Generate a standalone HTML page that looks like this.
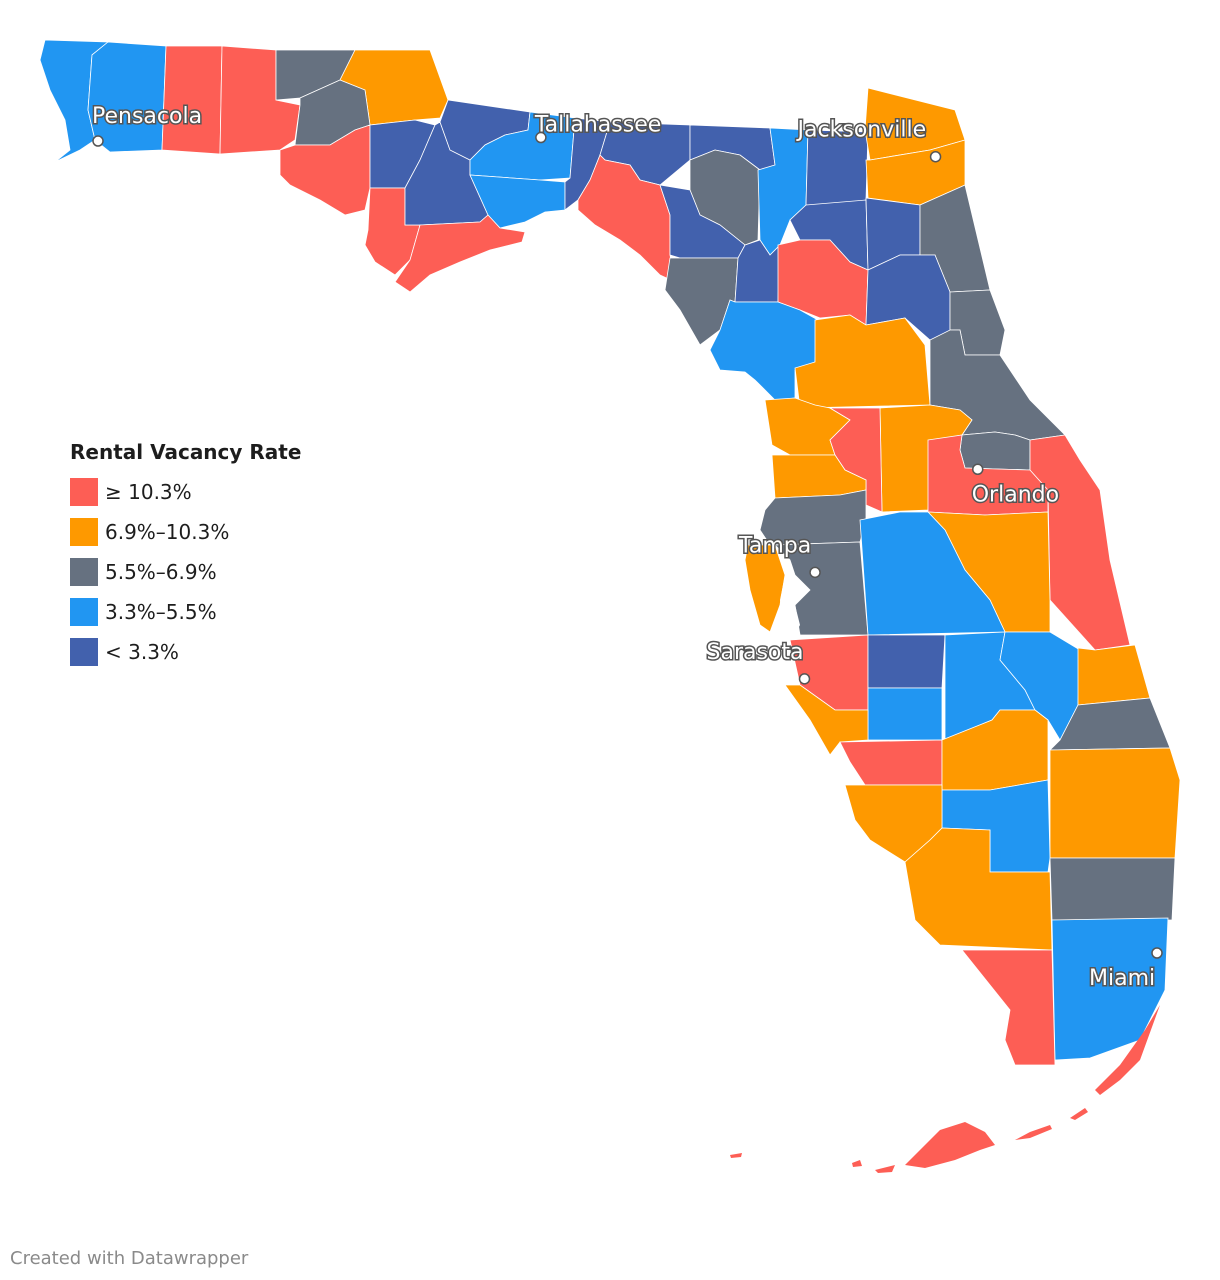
<!DOCTYPE html>
<html><head><meta charset="utf-8">
<style>
body{margin:0;background:#fff;font-family:"DejaVu Sans","Liberation Sans",sans-serif;}
#wrap{position:relative;width:1220px;height:1280px;overflow:hidden;}
svg text{font-family:"DejaVu Sans","Liberation Sans",sans-serif;}
</style></head>
<body>
<div id="wrap">
<svg id="map" width="1220" height="1280">
  <g id="counties"></g>
  <g id="cities"></g>
  <g>
    <text x="70" y="459" font-size="20" font-weight="bold" fill="#1d1d1d">Rental Vacancy Rate</text>
    <g id="legend-items"></g>
  </g>
  <text x="10" y="1264" font-size="18" fill="#8a8a8a">Created with Datawrapper</text>
</svg>
</div>
<script>
// Data
const legendLabels = ["≥ 10.3%","6.9%–10.3%","5.5%–6.9%","3.3%–5.5%","< 3.3%"];
const thresholds = [10.3, 6.9, 5.5, 3.3];
const palette = ["#fd5e55","#fe9900","#667180","#2196f2","#4261ad"];
const counties = ["Escambia","Santa Rosa","Okaloosa","Walton","Holmes","Jackson","Washington","Bay","Calhoun","Gulf","Liberty","Gadsden","Leon","Wakulla","Franklin","Jefferson","Madison","Taylor","Hamilton","Suwannee","Lafayette","Dixie","Columbia","Baker","Union-Bradford","Gilchrist","Alachua","Levy","Nassau","Duval","Clay","St Johns","Putnam","Flagler","Marion","Volusia","Lake","Citrus","Sumter","Hernando","Pasco","Pinellas","Hillsborough","Seminole","Orange","Brevard","Osceola","Polk","Manatee","Hardee","Highlands","Okeechobee","Indian River","St Lucie-Martin","Palm Beach","DeSoto","Sarasota","Charlotte","Glades","Hendry","Lee","Collier","Broward","Miami-Dade","Monroe"];
const rates = [4.5,4.5,11,11,6,8,6,11,2.5,11,2.5,2.5,4.5,4.5,11,2.5,2.5,11,2.5,6,2.5,6,4.5,2.5,2.5,2.5,11,4.5,8,8,2.5,6,2.5,6,8,6,8,8,11,8,6,8,6,6,11,11,8,4.5,11,2.5,4.5,4.5,8,6,8,4.5,8,11,8,4.5,8,8,6,4.5,11];
const cityNames = ["Pensacola","Tallahassee","Jacksonville","Orlando","Tampa","Sarasota","Miami"];
const cityLon = [-87.22,-84.28,-81.66,-81.38,-82.46,-82.53,-80.19];
const cityLat = [30.42,30.44,30.33,28.54,27.95,27.34,25.77];
// shapes (geometry, not data)
const shapes = {
"Escambia":"45,40 108,42 92,55 88,110 95,140 80,150 55,162 70,150 65,120 50,90 40,60",
"Santa Rosa":"108,42 166,46 162,150 110,152 95,140 88,110 92,55",
"Okaloosa":"166,46 222,46 220,154 162,150",
"Walton":"222,46 276,50 276,100 300,105 295,140 280,150 220,154",
"Holmes":"276,50 355,50 340,80 300,98 276,100",
"Jackson":"355,50 430,50 448,100 440,118 415,120 370,125 365,90 340,80",
"Washington":"300,98 340,80 365,90 370,125 355,130 330,145 295,145 300,105",
"Bay":"280,150 295,145 330,145 355,130 370,125 370,188 365,210 345,215 320,200 290,185 280,175",
"Calhoun":"370,125 415,120 435,125 420,160 405,188 370,188",
"Gulf":"370,188 405,188 405,225 420,225 410,260 395,275 375,262 365,245 368,230",
"Liberty":"435,125 440,122 450,150 470,160 470,175 488,215 480,222 420,225 405,225 405,188 420,160",
"Gadsden":"440,122 448,100 530,112 528,130 505,135 485,145 470,160 450,150",
"Leon":"530,112 575,118 570,178 540,180 470,175 470,160 485,145 505,135 528,130",
"Wakulla":"470,175 540,180 565,182 565,210 545,212 525,222 500,228 488,215",
"Franklin":"420,225 480,222 488,215 500,228 525,232 522,242 490,250 460,262 430,275 410,292 395,282 410,260",
"Jefferson":"575,118 610,122 600,155 590,180 578,200 565,210 565,182 570,178",
"Madison":"610,122 690,125 690,160 660,185 640,180 630,165 605,160 600,155",
"Taylor":"600,155 605,160 630,165 640,180 660,185 670,215 670,255 675,282 660,275 640,255 620,240 595,225 578,210 578,200 590,180",
"Hamilton":"690,125 770,128 775,165 760,170 740,155 715,150 690,160",
"Suwannee":"690,160 715,150 740,155 760,170 758,240 745,245 720,225 700,215 690,190",
"Lafayette":"660,185 690,190 700,215 720,225 745,245 738,258 680,258 670,255 670,215",
"Dixie":"670,258 738,258 735,302 730,300 720,330 700,345 680,310 665,290",
"Columbia":"770,128 808,130 806,205 790,220 780,245 770,255 760,240 758,170 775,165",
"Baker":"808,130 868,132 866,200 840,205 806,205",
"Union-Bradford":"806,205 866,200 868,270 850,262 830,240 800,240 790,220",
"Gilchrist":"745,245 760,240 770,255 780,245 778,302 735,302 738,258",
"Alachua":"778,245 800,240 830,240 850,262 868,270 866,325 850,315 820,318 800,310 778,302",
"Levy":"735,302 778,302 800,310 818,320 815,362 795,370 795,398 775,400 755,380 745,372 720,370 710,350 720,330 730,300",
"Nassau":"868,88 955,110 965,140 930,150 870,160 865,130",
"Duval":"866,160 870,160 930,150 965,140 965,185 920,205 868,198",
"Clay":"866,198 920,205 920,255 900,255 868,270",
"St Johns":"920,205 965,185 990,290 950,292 935,255 920,255",
"Putnam":"868,270 900,255 935,255 950,292 950,340 930,340 905,318 866,325",
"Flagler":"950,292 990,290 1005,330 1000,355 965,355 960,330 950,330",
"Marion":"815,320 850,315 866,325 905,318 925,345 930,405 800,408 795,368 815,362",
"Volusia":"930,340 950,330 960,330 965,355 1000,355 1030,400 1065,435 1030,440 1015,435 995,432 962,435 972,420 960,410 930,405",
"Lake":"880,408 930,405 960,410 972,420 962,435 935,440 928,510 882,512",
"Citrus":"765,400 795,398 815,405 830,408 850,420 830,440 835,455 790,455 772,445",
"Sumter":"830,408 880,408 882,512 866,505 866,480 845,470 835,455 830,440 850,420",
"Hernando":"772,455 835,455 845,470 866,480 866,490 840,495 775,498",
"Pasco":"775,498 840,495 866,490 866,520 860,542 770,545 760,530 765,510",
"Pinellas":"748,545 775,545 785,575 780,605 770,632 760,625 750,590 745,560",
"Hillsborough":"775,545 860,542 868,635 800,635 795,605 810,590 795,575 790,560",
"Seminole":"962,435 995,432 1015,435 1030,440 1030,470 965,468 960,450",
"Orange":"928,440 962,435 960,450 965,468 1030,470 1048,490 1048,512 985,515 928,512",
"Brevard":"1030,440 1065,435 1080,460 1100,490 1110,560 1130,645 1095,650 1050,600 1048,490 1030,470",
"Osceola":"928,512 985,515 1048,512 1050,600 1050,632 1005,632 990,600 965,570 945,530",
"Polk":"860,520 900,512 928,512 945,530 965,570 990,600 1005,632 868,635",
"Manatee":"790,640 868,635 868,710 835,710 800,685",
"Hardee":"868,635 945,635 942,688 868,688",
"Highlands":"945,635 1005,632 1000,660 1025,690 1035,710 1000,710 992,720 945,740",
"Okeechobee":"1005,632 1050,632 1080,650 1078,705 1060,740 1048,720 1035,710 1025,690 1000,660",
"Indian River":"1078,648 1095,650 1135,645 1150,698 1078,705",
"St Lucie-Martin":"1078,705 1150,698 1170,748 1050,750 1060,740",
"Palm Beach":"1050,750 1170,748 1180,780 1175,858 1050,858",
"DeSoto":"868,688 942,688 942,740 868,740",
"Sarasota":"785,685 800,685 835,710 868,710 868,740 840,742 830,755 810,720",
"Charlotte":"840,742 942,740 942,785 865,785 850,762",
"Glades":"942,740 992,720 1000,710 1035,710 1048,720 1048,780 990,790 942,790",
"Hendry":"942,790 990,790 1048,780 1050,858 1048,872 990,872 990,830 942,828",
"Lee":"845,785 865,785 942,785 942,828 930,840 905,862 870,840 855,820",
"Collier":"905,862 930,840 942,828 990,830 990,872 1050,872 1052,950 940,945 915,920",
"Broward":"1050,858 1175,858 1172,920 1052,920",
"Miami-Dade":"1052,920 1168,918 1165,990 1150,1020 1140,1040 1090,1058 1055,1060",
"Monroe":"962,950 1052,950 1055,1065 1015,1065 1005,1040 1010,1010 990,985"
};
const keys = ["1145,1030 1160,1005 1140,1060 1120,1080 1100,1095 1095,1090 1120,1065",
"905,1165 940,1130 965,1122 985,1132 995,1145 980,1150 955,1160 925,1168",
"875,1170 895,1165 892,1172 878,1173","1015,1140 1030,1132 1050,1125 1052,1129 1030,1138",
"1070,1118 1085,1108 1088,1112 1075,1120","730,1155 742,1153 741,1157 731,1158","852,1163 860,1160 862,1166 853,1167"];

const NS="http://www.w3.org/2000/svg";
function colorFor(v){for(let i=0;i<thresholds.length;i++){if(v>=thresholds[i])return palette[i];}return palette[4];}
const g=document.getElementById('counties');
counties.forEach((c,i)=>{
  const p=document.createElementNS(NS,'polygon');
  p.setAttribute('points',shapes[c]);
  p.setAttribute('fill',colorFor(rates[i]));
  p.setAttribute('stroke','#ffffff');p.setAttribute('stroke-width','0.8');
  
  
  g.appendChild(p);
});
const monroeRate = rates[counties.indexOf("Monroe")];
keys.forEach(k=>{
  const p=document.createElementNS(NS,'polygon');
  p.setAttribute('points',k);p.setAttribute('fill',colorFor(monroeRate));
  
  
  g.appendChild(p);
});
const bay=document.createElementNS(NS,'polygon');
bay.setAttribute('points','785,575 800,590 795,605 800,625 792,640 782,625 780,600');
bay.setAttribute('fill','#fff');


g.appendChild(bay);
function px(lon){return 98+(lon+87.22)*(1157-98)/(7.03);}
function py(lat){return 141+(30.42-lat)*(953-141)/(30.42-25.77);}
const labelOff=[[-6,-18],[-6,-6],[-138,-20],[-6,32],[-76,-20],[-98,-20],[-68,32]];
const cg=document.getElementById('cities');
cityNames.forEach((n,i)=>{
  const x=px(cityLon[i]),y=py(cityLat[i]);
  const c=document.createElementNS(NS,'circle');
  c.setAttribute('cx',x);c.setAttribute('cy',y);c.setAttribute('r',5);
  c.setAttribute('fill','#fff');c.setAttribute('stroke','#555');c.setAttribute('stroke-width','1.5');
  
  
  cg.appendChild(c);
  const t=document.createElementNS(NS,'text');
  t.setAttribute('x',x+labelOff[i][0]);t.setAttribute('y',y+labelOff[i][1]);
  t.setAttribute('font-size','22');t.setAttribute('fill','#fff');
  t.setAttribute('stroke','#555');t.setAttribute('stroke-width','3');t.setAttribute('paint-order','stroke');
  t.textContent=n;
  
  
  cg.appendChild(t);
});
const lg=document.getElementById('legend-items');
legendLabels.forEach((l,i)=>{
  const r=document.createElementNS(NS,'rect');
  r.setAttribute('x',70);r.setAttribute('y',478+i*40);r.setAttribute('width',28);r.setAttribute('height',28);
  r.setAttribute('fill',palette[i]);
  
  
  lg.appendChild(r);
  const t=document.createElementNS(NS,'text');
  t.setAttribute('x',105);t.setAttribute('y',499+i*40);t.setAttribute('font-size','20');t.setAttribute('fill','#1d1d1d');
  t.textContent=l;
  
  
  lg.appendChild(t);
});
</script>
</body></html>
